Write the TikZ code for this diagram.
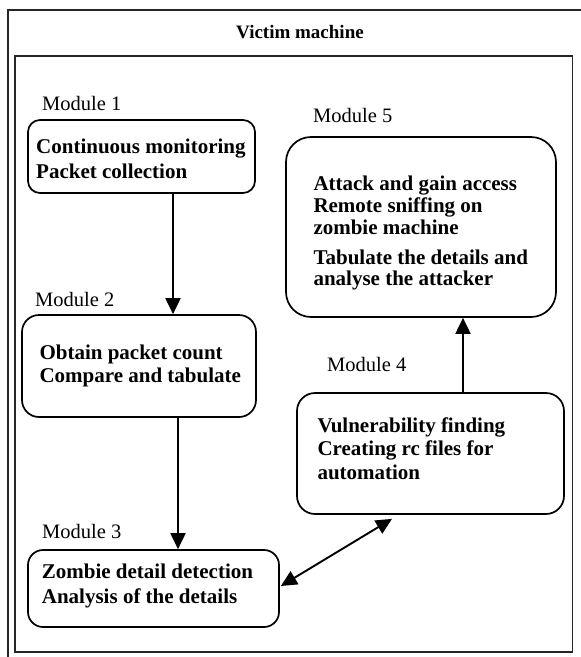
\documentclass[tikz,border=0pt]{standalone}
\usepackage{fontspec}
\setmainfont{Liberation Serif}
\usetikzlibrary{arrows.meta}
\begin{document}
\begin{tikzpicture}[x=1pt,y=-1pt,
  frame/.style={draw=black!85, line width=1.6pt},
  modbox/.style={draw, line width=1.7pt, inner sep=0pt},
  boxtext/.style={inner sep=0pt, anchor=base west, align=left, font=\fontsize{21}{#1}\selectfont\bfseries},
  modlabel/.style={inner sep=0pt, anchor=base west, font=\fontsize{20.5}{24}\selectfont},
  arr/.style={line width=1.9pt, -{Triangle[length=16pt,width=15pt]}},
  darr/.style={line width=1.9pt, {Triangle[length=16pt,width=15pt]}-{Triangle[length=16pt,width=15pt]}}
]
\useasboundingbox (0,0) rectangle (581,657);
% frames
\draw[frame] (8,657) -- (8,10) -- (581,10);
\draw[frame] (15,56) rectangle (572.5,652);
\node[inner sep=0pt, anchor=base, font=\fontsize{19}{22}\selectfont\bfseries] (title) at (300,38.5) {Victim machine};

% boxes
\node[modbox, rounded corners=12pt, minimum width=227pt, minimum height=73pt] (m1) at (141.5,156.5) {};
\node[modbox, rounded corners=17pt, minimum width=234pt, minimum height=102pt] (m2) at (139,366) {};
\node[modbox, rounded corners=15pt, minimum width=251pt, minimum height=77pt] (m3) at (153.5,588.5) {};
\node[modbox, rounded corners=18pt, minimum width=267pt, minimum height=121pt] (m4) at (430.5,453.5) {};
\node[modbox, rounded corners=25pt, minimum width=270pt, minimum height=180pt] (m5) at (421,227) {};

% box texts (anchored at the baseline of the last line)
\node[boxtext=25.5] (t1) at (36,178.5) {Continuous monitoring\\Packet collection};
\node[boxtext=23.5] (t2) at (39.3,382.7) {Obtain packet count\\Compare and tabulate};
\node[boxtext=25] (t3) at (41.7,603.3) {Zombie detail detection\\Analysis of the details};
\node[boxtext=23.5] (t4) at (317.3,479.3) {Vulnerability finding\\Creating rc files for\\automation};
\node[boxtext=21.7] (t5) at (313.3,285.7) {Attack and gain access\\Remote sniffing on\\zombie machine\\[8.3pt]Tabulate the details and\\analyse the attacker};

% module labels
\node[modlabel] (l1) at (42,110) {Module 1};
\node[modlabel] (l2) at (35,306) {Module 2};
\node[modlabel] (l3) at (42,538) {Module 3};
\node[modlabel] (l4) at (327,371) {Module 4};
\node[modlabel] (l5) at (313,122.7) {Module 5};

% connectors
\draw[arr] ([xshift=31.5pt]m1.south) -- ([xshift=31.5pt]m1.south |- m2.north);
\draw[arr] ([xshift=39pt]m2.south) -- ([xshift=39pt]m2.south |- m3.north);
\draw[arr] ([xshift=32.5pt]m4.north) -- ([xshift=32.5pt]m4.north |- m5.south);
\draw[darr] ([xshift=1pt,yshift=2.5pt]m3.east) -- ([xshift=-38.5pt,yshift=-4pt]m4.south);
\end{tikzpicture}
\end{document}
